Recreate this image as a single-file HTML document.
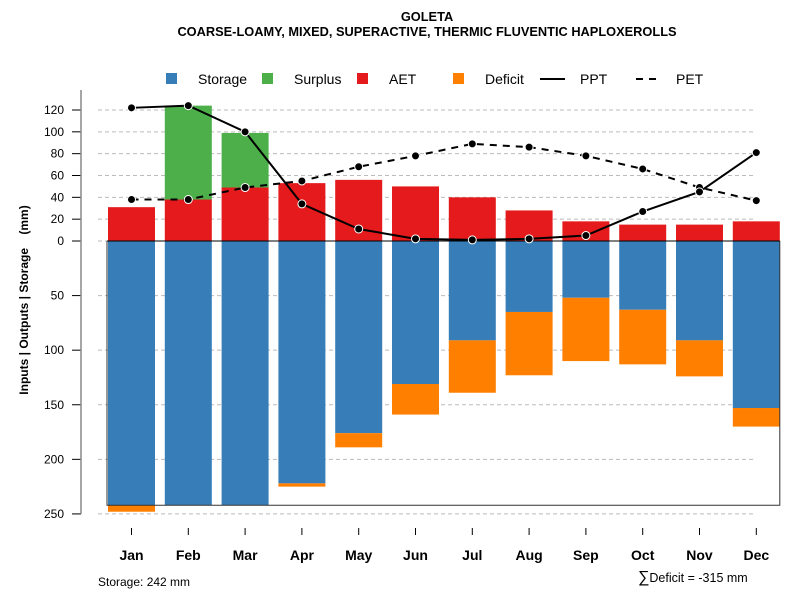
<!DOCTYPE html>
<html><head><meta charset="utf-8"><style>
body{margin:0;background:#fff}
svg{font-family:"Liberation Sans",sans-serif}
</style></head><body>
<svg id="c" width="800" height="600" viewBox="0 0 800 600">
<text x="427" y="21" text-anchor="middle" font-size="12.8" font-weight="bold">GOLETA</text>
<text x="427" y="36" text-anchor="middle" font-size="12.8" font-weight="bold">COARSE-LOAMY, MIXED, SUPERACTIVE, THERMIC FLUVENTIC HAPLOXEROLLS</text>
<g>
<rect x="166" y="73" width="11" height="11" fill="#377eb8"/>
<text x="198" y="84" font-size="14">Storage</text>
<rect x="262" y="73" width="11" height="11" fill="#4daf4a"/>
<text x="294" y="84" font-size="14">Surplus</text>
<rect x="357" y="73" width="11" height="11" fill="#e41a1c"/>
<text x="389" y="84" font-size="14">AET</text>
<rect x="453" y="73" width="11" height="11" fill="#ff7f00"/>
<text x="485" y="84" font-size="14">Deficit</text>
<line x1="540" y1="79" x2="565" y2="79" stroke="#000" stroke-width="2"/>
<text x="580" y="84" font-size="14">PPT</text>
<line x1="636" y1="79" x2="661" y2="79" stroke="#000" stroke-width="2" stroke-dasharray="7,6"/>
<text x="676" y="84" font-size="14">PET</text>
</g>
<text transform="translate(28,300) rotate(-90)" text-anchor="middle" font-size="12" font-weight="bold" xml:space="preserve">Inputs | Outputs | Storage    (mm)</text>
<text x="98" y="586" font-size="12">Storage: 242 mm</text>
<text x="638" y="582" font-size="12.5"><tspan font-size="16">∑</tspan>Deficit = -315 mm</text>
<g id="g"></g>
</svg>
<script>
const months=["Jan","Feb","Mar","Apr","May","Jun","Jul","Aug","Sep","Oct","Nov","Dec"];
const storage=[242,242,242,222,176,131,91,65,52,63,91,153];
const deficit=[6,0,0,3,13,28,48,58,58,50,33,17];
const aet=[31,38,49,53,56,50,40,28,18,15,15,18];
const surplus=[0,86,50,0,0,0,0,0,0,0,0,0];
const ppt=[122,124,100,34,11,2,1,2,5,27,45,81];
const pet=[38,38,49,55,68,78,89,86,78,66,49,37];
const upTicks=[0,20,40,60,80,100,120];
const downTicks=[50,100,150,200,250];
const awc=242;
const NS="http://www.w3.org/2000/svg";
const g=document.getElementById('g');
const y0=241,k=1.0917;
const yUp=v=>y0-v*k, yDn=v=>y0+v*k;
const xC=i=>131.5+i*56.8, bw=47;
function mk(t,a){const e=document.createElementNS(NS,t);for(const n in a)e.setAttribute(n,a[n]);g.appendChild(e);return e;}
upTicks.concat(downTicks.map(d=>-d)).forEach(t=>{
 const y=t>=0?yUp(t):yDn(-t);
 const l=mk('line',{x1:98,x2:756,y1:y,y2:y,stroke:'#bbb','stroke-dasharray':'4,3'});
 
 
 const tk=mk('line',{x1:72,x2:81,y1:y,y2:y,stroke:'#000'});
 
 
 const tx=mk('text',{x:64,y:y+4,'text-anchor':'end','font-size':12});
 tx.textContent=Math.abs(t);
 
 
});
const ax=mk('line',{x1:81,x2:81,y1:yUp(120)-20,y2:yDn(250),stroke:'#888','stroke-width':1.5});


months.forEach((m,i)=>{
 const x=xC(i);
 let r=mk('rect',{x:x-bw/2,y:y0,width:bw,height:storage[i]*k,fill:'#377eb8'});
 
 
 r=mk('rect',{x:x-bw/2,y:yDn(storage[i]),width:bw,height:deficit[i]*k,fill:'#ff7f00'});
 
 
 r=mk('rect',{x:x-bw/2,y:yUp(aet[i]),width:bw,height:aet[i]*k,fill:'#e41a1c'});
 
 
 r=mk('rect',{x:x-bw/2,y:yUp(aet[i]+surplus[i]),width:bw,height:surplus[i]*k,fill:'#4daf4a'});
 
 
 const t=mk('line',{x1:x,x2:x,y1:528,y2:535,stroke:'#000'});
 
 
 const tx=mk('text',{x:x,y:560,'text-anchor':'middle','font-size':14,'font-weight':'bold'});
 tx.textContent=m;
 
 
});
const box=mk('path',{d:`M${xC(0)-bw/2-1},${y0} V${yDn(awc)} H${xC(11)+bw/2} V${y0}`,fill:'none',stroke:'#333'});


const zl=mk('line',{x1:xC(0)-bw/2-1,x2:xC(11)+bw/2,y1:y0,y2:y0,stroke:'#000'});


function series(arr,name,dash){
 const p=mk('polyline',{points:arr.map((v,i)=>xC(i)+','+yUp(v)).join(' '),fill:'none',stroke:'#000','stroke-width':2,'stroke-dasharray':dash});
 
 
 arr.forEach((v,i)=>{
  const c=mk('circle',{cx:xC(i),cy:yUp(v),r:4,fill:'#000',stroke:'#fff','stroke-width':1});
  
  
 });
}
series(pet,'pet','7,6');
series(ppt,'ppt','none');
</script>
</body></html>
